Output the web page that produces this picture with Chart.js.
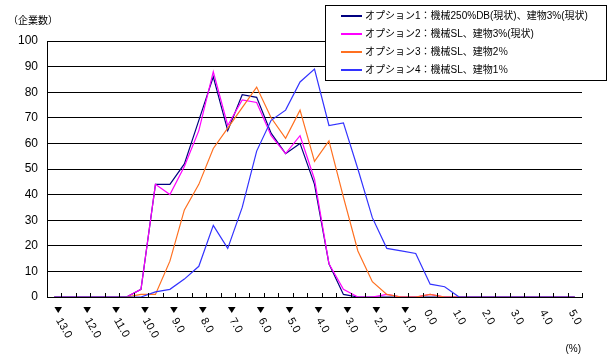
<!DOCTYPE html>
<html>
<head>
<meta charset="utf-8">
<script src="https://cdn.jsdelivr.net/npm/chart.js@4"></script>
<style>
  html, body { margin: 0; padding: 0; background: #fff; }
  canvas { display: block; }
</style>
</head>
<body>
<canvas id="chart" width="609" height="358"></canvas>
<script>
// Rate classes on the horizontal axis (%), negative values shown with ▼
const rates = [-13.0, -12.5, -12.0, -11.5, -11.0, -10.5, -10.0, -9.5, -9.0, -8.5,
               -8.0, -7.5, -7.0, -6.5, -6.0, -5.5, -5.0, -4.5, -4.0, -3.5,
               -3.0, -2.5, -2.0, -1.5, -1.0, -0.5, 0.0, 0.5, 1.0, 1.5,
               2.0, 2.5, 3.0, 3.5, 4.0, 4.5, 5.0];

const seriesNames = [
  'オプション1：機械250%DB(現状)、建物3%(現状)',
  'オプション2：機械SL、建物3%(現状)',
  'オプション3：機械SL、建物2％',
  'オプション4：機械SL、建物1％'
];

// Number of companies per rate class
const option1 = [0, 0, 0, 0, 0, 0, 3, 44, 44, 52, 69, 86, 65, 79, 78, 64, 56, 60, 44, 13,
                 1, 0, 0, 0, 0, 0, 0, 0, 0, 0, 0, 0, 0, 0, 0, 0, 0];
const option2 = [0, 0, 0, 0, 0, 0, 3, 44, 40, 51, 65, 88, 67, 77, 76, 63, 56, 63, 46, 13,
                 3, 0, 0, 1, 0, 0, 1, 0, 0, 0, 0, 0, 0, 0, 0, 0, 0];
const option3 = [0, 0, 0, 0, 0, 0, 1, 1, 14, 34, 44, 58, 66, 74, 82, 70, 62, 73, 53, 61,
                 39, 18, 6, 1, 0, 0, 1, 0, 0, 0, 0, 0, 0, 0, 0, 0, 0];
const option4 = [0, 0, 0, 0, 0, 0, 0, 2, 3, 7, 12, 28, 19, 35, 57, 69, 73, 84, 89, 67,
                 68, 50, 31, 19, 18, 17, 5, 4, 0, 0, 0, 0, 0, 0, 0, 0, 0];

const yTicks = [0, 10, 20, 30, 40, 50, 60, 70, 80, 90, 100];

const seriesColors = ['#000080', '#FF00FF', '#FF7020', '#3333FF'];

const LATIN = '"Liberation Sans", Arial, "Noto Sans CJK JP", sans-serif';
const JP = '"Liberation Sans", "Noto Sans CJK JP", sans-serif';

// Tick marks, rotated rate labels, unit captions and the boxed legend
const decorations = {
  id: 'decorations',
  afterDraw(chart) {
    const ctx = chart.ctx;
    const xs = chart.scales.x;
    const area = chart.chartArea;
    const step = xs.getPixelForTick(1) - xs.getPixelForTick(0);

    ctx.save();
    ctx.strokeStyle = '#000';
    ctx.lineWidth = 1;
    for (let i = 0; i <= rates.length; i++) {
      const px = Math.round(xs.getPixelForTick(0) - step / 2 + i * step) + 0.5;
      ctx.beginPath();
      ctx.moveTo(px, area.bottom);
      ctx.lineTo(px, area.bottom - 4);
      ctx.stroke();
    }

    ctx.fillStyle = '#000';
    rates.forEach((v, i) => {
      if (i % 2 !== 0) return;
      const cx = xs.getPixelForTick(i);
      const num = Math.abs(v).toFixed(1);
      let sx = cx + 1, sy = area.bottom + 11;
      if (v < 0) {
        // minus marker
        const tx = cx + 4, ty = area.bottom + 10;
        ctx.beginPath();
        ctx.moveTo(tx - 3.8, ty);
        ctx.lineTo(tx + 3.8, ty);
        ctx.lineTo(tx, ty + 6);
        ctx.closePath();
        ctx.fill();
        sx = cx + 9; sy = area.bottom + 19;
      }
      ctx.save();
      ctx.translate(sx, sy);
      ctx.rotate(60 * Math.PI / 180);
      ctx.font = '11px ' + LATIN;
      ctx.textAlign = 'left';
      ctx.textBaseline = 'top';
      ctx.fillText(num, 0, 0);
      ctx.restore();
    });

    // axis captions
    ctx.font = '10px ' + JP;
    ctx.textAlign = 'left';
    ctx.textBaseline = 'middle';
    ctx.fillText('（企業数）', 8, 21);
    ctx.font = '10px ' + LATIN;
    ctx.textAlign = 'right';
    ctx.fillText('(%)', 581, 349);

    // legend box
    const lx = 325.5, ly = 5.5, lw = 281, lh = 75;
    ctx.fillStyle = '#fff';
    ctx.fillRect(lx, ly, lw, lh);
    ctx.strokeStyle = '#000';
    ctx.lineWidth = 1;
    ctx.strokeRect(lx, ly, lw, lh);
    chart.data.datasets.forEach((ds, k) => {
      const yy = 16 + k * 18;
      ctx.strokeStyle = ds.borderColor;
      ctx.lineWidth = 2;
      ctx.beginPath();
      ctx.moveTo(341, yy);
      ctx.lineTo(362, yy);
      ctx.stroke();
      ctx.fillStyle = '#000';
      ctx.font = '10px ' + JP;
      ctx.textAlign = 'left';
      ctx.textBaseline = 'middle';
      ctx.fillText(ds.label, 365, yy);
    });
    ctx.restore();
  }
};

const seriesValues = [option1, option2, option3, option4];

new Chart(document.getElementById('chart'), {
  type: 'line',
  data: {
    labels: rates.map(v => v.toFixed(1)),
    datasets: seriesValues.map((vals, k) => ({
      label: seriesNames[k],
      data: vals,
      borderColor: seriesColors[k],
      backgroundColor: seriesColors[k],
      borderWidth: 1.2,
      pointRadius: 0,
      tension: 0,
      fill: false,
      order: 4 - k
    }))
  },
  options: {
    responsive: false,
    animation: false,
    devicePixelRatio: 1,
    layout: { padding: { left: 0, right: 27, top: 41, bottom: 0 } },
    plugins: {
      legend: { display: false },
      tooltip: { enabled: false },
      title: { display: false }
    },
    scales: {
      x: {
        type: 'category',
        offset: true,
        grid: { display: false, drawTicks: false },
        border: { display: true, color: '#000', width: 1 },
        ticks: { display: false },
        afterFit(scale) { scale.height = 61; }
      },
      y: {
        min: 0,
        max: 100,
        afterBuildTicks(scale) { scale.ticks = yTicks.map(v => ({ value: v })); },
        grid: { color: '#000', lineWidth: 1, drawTicks: false },
        border: { display: true, color: '#000', width: 1 },
        ticks: {
          color: '#000',
          padding: 9,
          font: { family: LATIN, size: 12 }
        },
        afterFit(scale) { scale.width = 47; }
      }
    }
  },
  plugins: [decorations]
});
</script>
</body>
</html>
